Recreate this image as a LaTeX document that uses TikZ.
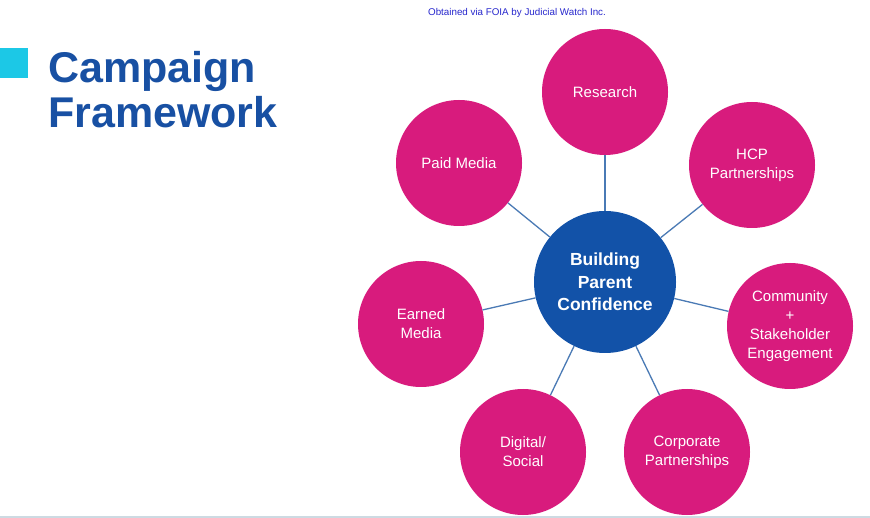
\documentclass[tikz,border=0pt]{standalone}
\usepackage{fontspec}
\setmainfont{Liberation Sans}
\definecolor{hubblue}{RGB}{18,82,168}
\definecolor{spokepink}{RGB}{216,27,125}
\definecolor{linkblue}{RGB}{74,122,181}
\definecolor{titleblue}{RGB}{24,80,163}
\definecolor{tilecyan}{RGB}{28,200,230}
\definecolor{foiablue}{RGB}{40,40,205}
\definecolor{rulegray}{RGB}{205,218,226}
\tikzset{
	spoke/.style={circle,fill=spokepink,minimum size=126pt,inner sep=0pt,text=white,align=center,font=\fontsize{15}{19}\selectfont},
	hub/.style={circle,fill=hubblue,minimum size=142pt,inner sep=0pt,text=white,align=center,font=\bfseries\fontsize{17.5}{22.5}\selectfont},
	link/.style={draw=linkblue,line width=1.3pt},
	heading/.style={anchor=base west,inner sep=0pt,text=titleblue,font=\bfseries\fontsize{43}{48}\selectfont}
}

\begin{document}
\begin{tikzpicture}[x=1pt,y=-1pt]
		\useasboundingbox (0,0) rectangle (870,518);
		\fill[white] (0,0) rectangle (870,518);
		\fill[rulegray] (0,515.5) rectangle (870,518);
		% title
		\fill[tilecyan] (0,48) rectangle (28,78);
		\node[heading] (title1) at (48,83){Campaign};
		\node[heading] (title2) at (48,128){Framework};
		\node[text=foiablue,font=\fontsize{9.8}{11}\selectfont] (foia) at (517,13){Obtained via FOIA by Judicial Watch Inc.};
		% wheel
		\node[hub] (hub) at (605,282){Building\\Parent\\Confidence};
		\node[spoke] (research) at (605,92){Research};
		\node[spoke] (hcp) at (752,165){HCP\\Partnerships};
		\node[spoke] (community) at (790,326){Community\\+\\Stakeholder\\Engagement};
		\node[spoke] (corporate) at (687,452){Corporate\\Partnerships};
		\node[spoke] (digital) at (523,452){Digital/\\Social};
		\node[spoke] (earned) at (421,324){Earned\\Media};
		\node[spoke] (paid) at (459,163){Paid Media};
		\foreach \s in {research,hcp,community,corporate,digital,earned,paid}
			\draw[link] (hub) -- (\s);
	\end{tikzpicture}
\end{document}
